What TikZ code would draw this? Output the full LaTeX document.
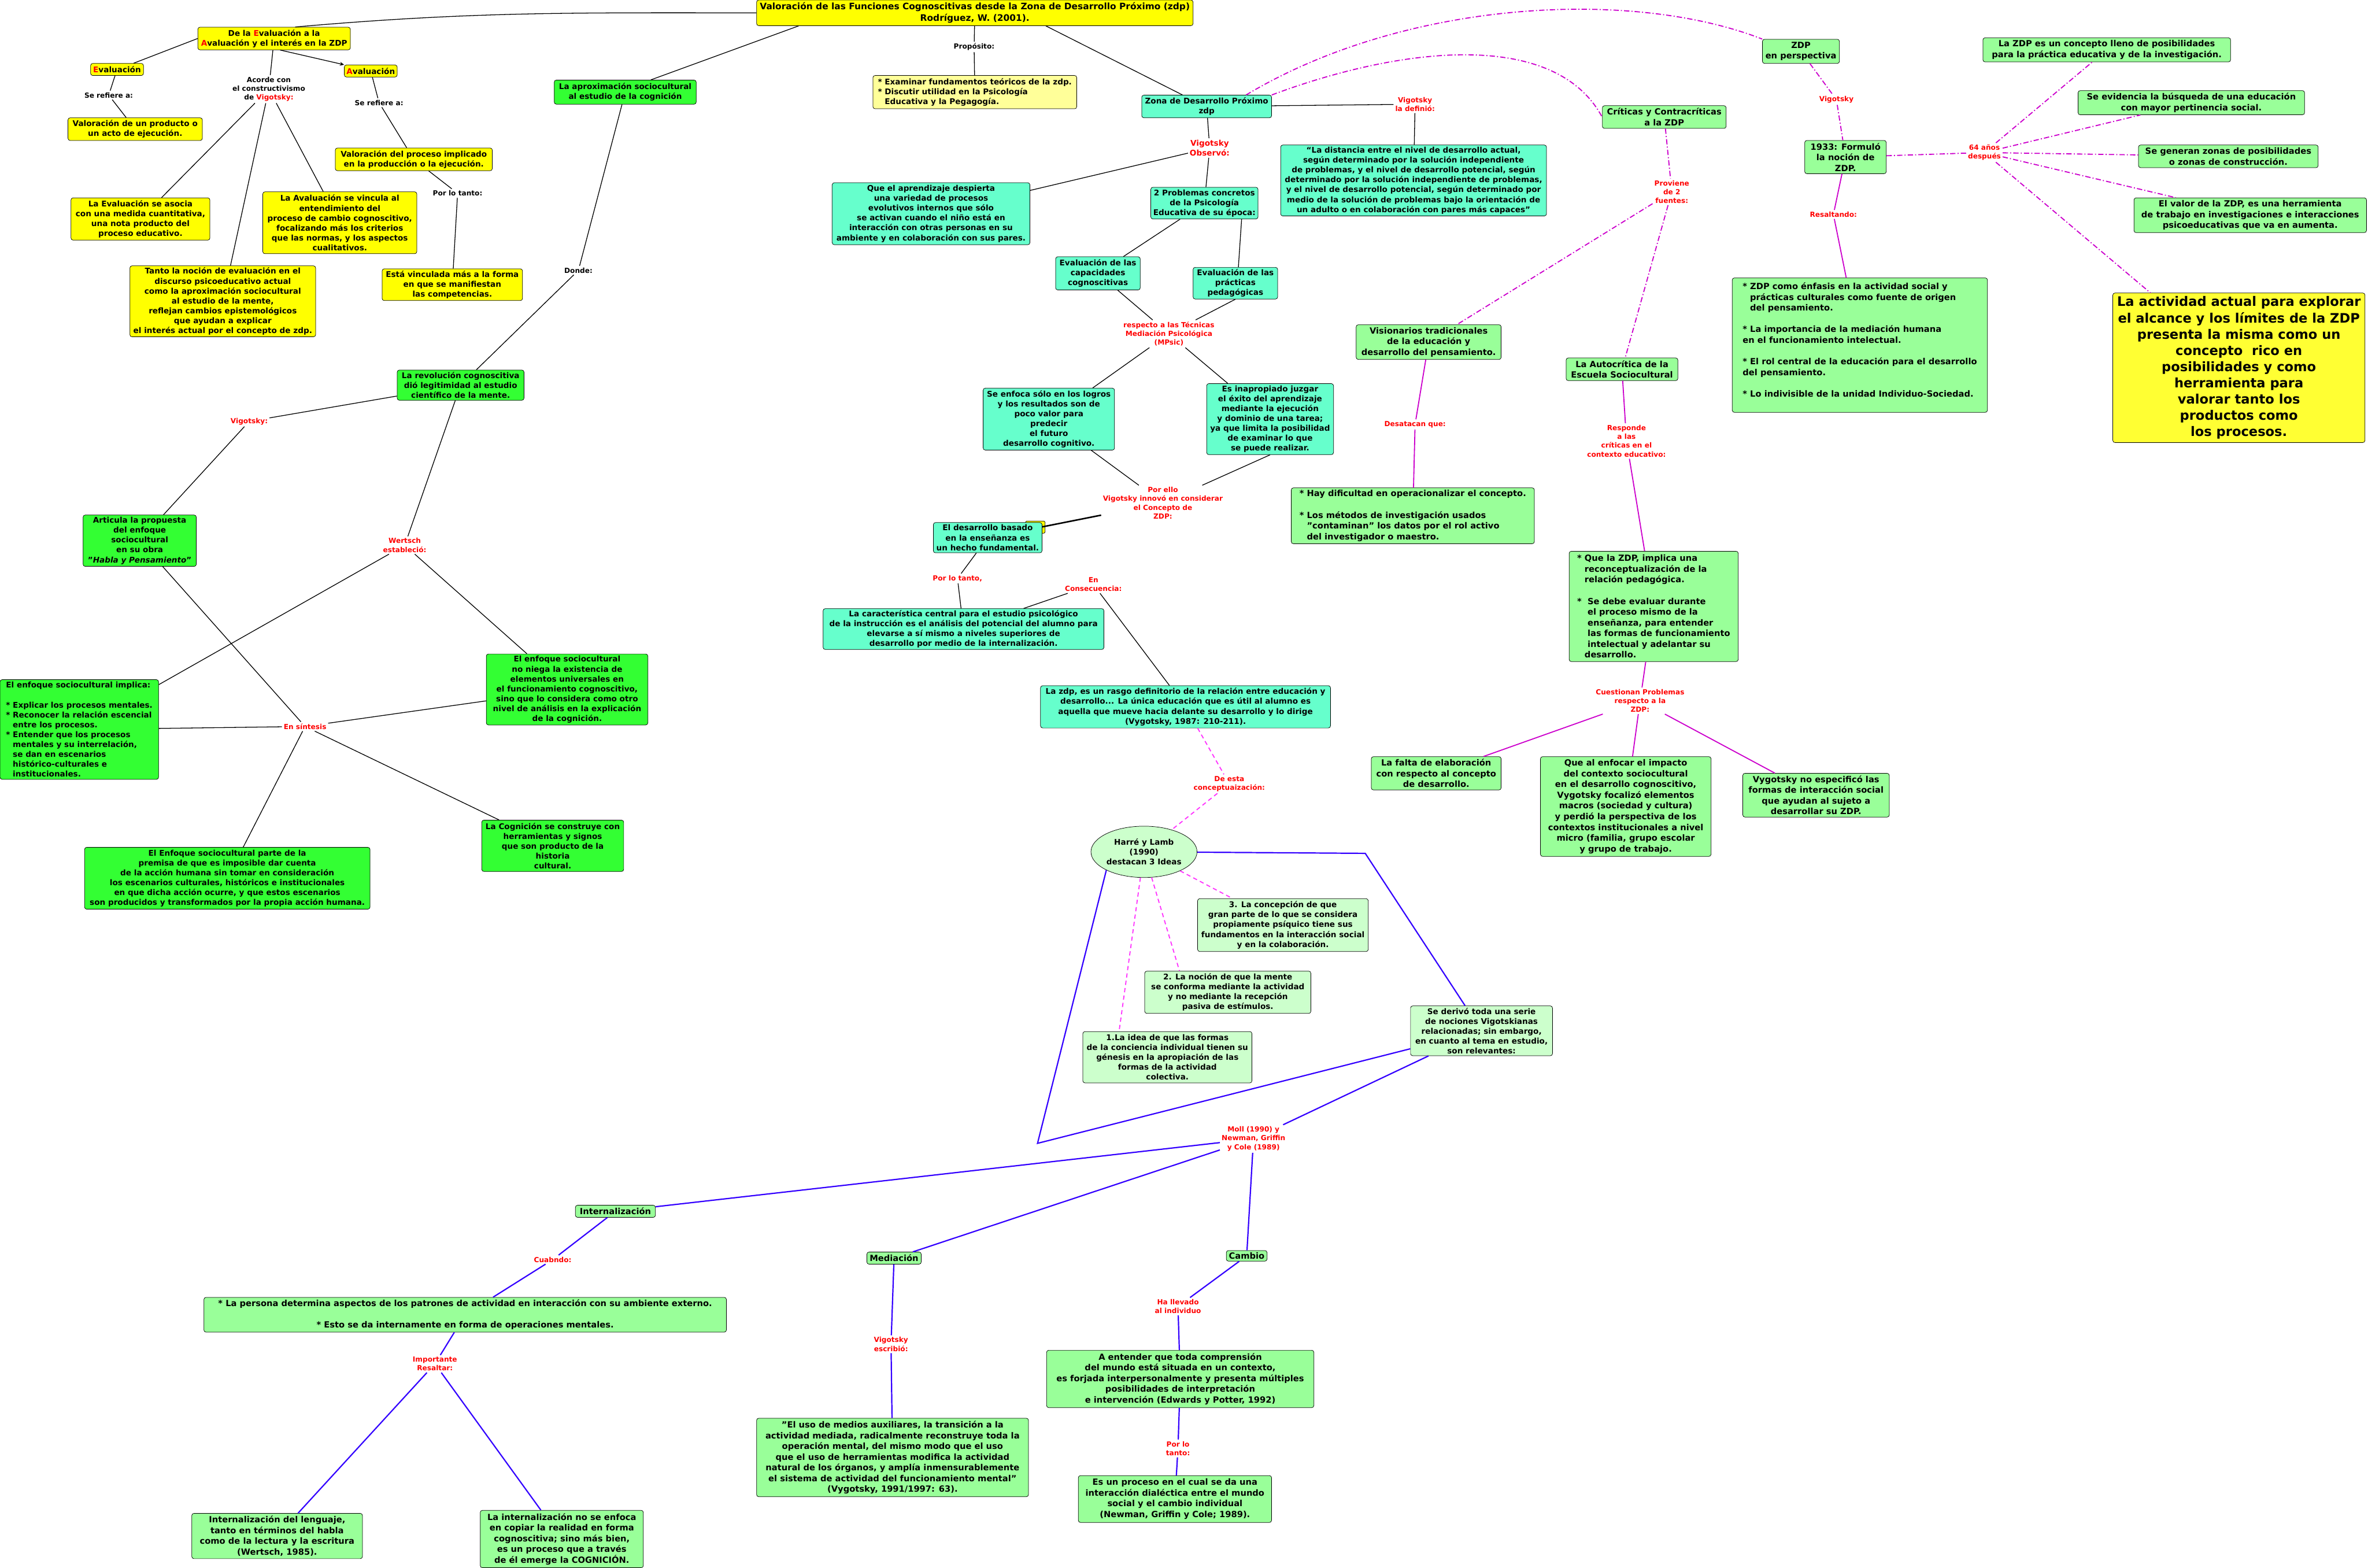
\documentclass[tikz,border=0pt]{standalone}
\usepackage{fontspec}
\setmainfont{DejaVu Sans}
\usetikzlibrary{shapes.geometric,arrows.meta}
\definecolor{cyel}{HTML}{FFFF00}
\definecolor{cyelpale}{HTML}{FFFF99}
\definecolor{cyelbig}{HTML}{FFFF33}
\definecolor{cgrn}{HTML}{33FF33}
\definecolor{cteal}{HTML}{66FFCC}
\definecolor{cltg}{HTML}{99FF99}
\definecolor{cpale}{HTML}{CCFFCC}
\definecolor{cred}{HTML}{FF0000}
\definecolor{cmag}{HTML}{CC00CC}
\definecolor{cpink}{HTML}{FF33FF}
\definecolor{cblue}{HTML}{3300FF}
\newcommand{\cmbase}{\bfseries\fontsize{7.4}{9.3}\selectfont}
\newcommand{\cmbig}{\bfseries\fontsize{8}{10.1}\selectfont}
\newcommand{\cmttl}{\bfseries\fontsize{8.4}{10.6}\selectfont}
\newcommand{\cmhuge}{\bfseries\fontsize{12.3}{15.3}\selectfont}
\newcommand{\cmlbl}{\bfseries\fontsize{6.6}{8.3}\selectfont}
\newcommand{\bul}{\mbox{*}}
\newcommand{\hind}{\hphantom{* }}
\tikzset{
  concept/.style={draw=black, line width=0.4pt, rounded corners=2pt, align=center, inner sep=1.5pt, font=\cmbase},
  sz/.style 2 args={minimum width=#1*0.05cm, minimum height=#2*0.05cm},
  yelbox/.style={concept, fill=cyel},
  grnbox/.style={concept, fill=cgrn},
  tealbox/.style={concept, fill=cteal},
  ltgbox/.style={concept, fill=cltg, font=\cmbig},
  palebox/.style={concept, fill=cpale},
  link/.style={align=center, inner sep=1.5pt, font=\cmlbl, text=cred},
  blink/.style={link, text=black},
  con/.style={line width=0.7pt},
  bcon/.style={line width=1.2pt, draw=cblue},
  mcon/.style={line width=1pt, draw=cmag},
  mdd/.style={mcon, dash pattern=on 5pt off 2pt on 1pt off 2pt},
  pdash/.style={line width=1pt, draw=cpink, dash pattern=on 4pt off 3pt}
}
\begin{document}
\begin{tikzpicture}[x=0.05cm, y=-0.05cm]
\useasboundingbox (0,0) rectangle (1568,1038);
\fill[white] (0,0) rectangle (1568,1038);
% Evaluacion / Avaluacion
\node[yelbox, font=\cmttl, sz={289}{17}] (title) at (645.5,8.5) {Valoración de las Funciones Cognoscitivas desde la Zona de Desarrollo Próximo (zdp)\\Rodríguez, W. (2001).};
\node[yelbox, sz={101}{15}] (deeva) at (181.5,25.5) {De la \textcolor{cred}{E}valuación a la\\\textcolor{cred}{A}valuación y el interés en la ZDP};
\node[yelbox, sz={35}{8}] (evalu) at (77.5,46) {\textcolor{cred}{E}valuación};
\node[yelbox, sz={35}{8}] (avalu) at (245.5,47) {\textcolor{cred}{A}valuación};
\node[blink] (serefa) at (72,63) {Se refiere a:};
\node[blink] (acorde) at (178,59) {Acorde con\\el constructivismo\\de \textcolor{cred}{Vigotsky:}};
\node[blink] (serefb) at (251,68) {Se refiere a:};
\node[yelbox, sz={89}{15}] (valprod) at (89.5,85.5) {Valoración de un producto o\\un acto de ejecución.};
\node[yelbox, sz={104}{15}] (valproc) at (274,105.5) {Valoración del proceso implicado\\en la producción o la ejecución.};
\node[blink] (portanto) at (303,128) {Por lo tanto:};
\node[yelbox, sz={92}{28}] (asocia) at (93,145) {La Evaluación se asocia\\con una medida cuantitativa,\\una nota producto del\\proceso educativo.};
\node[yelbox, sz={102}{41}] (vincula) at (225,147.5) {La Avaluación se vincula al\\entendimiento del\\proceso de cambio cognoscitivo,\\focalizando más los criterios\\que las normas, y los aspectos\\cualitativos.};
\node[yelbox, sz={123}{47}] (tanto) at (147.5,199.5) {Tanto la noción de evaluación en el\\discurso psicoeducativo actual\\como la aproximación sociocultural\\al estudio de la mente,\\reflejan cambios epistemológicos\\que ayudan a explicar\\el interés actual por el concepto de zdp.};
\node[yelbox, sz={93}{21}] (manifiestan) at (299.5,188.5) {Está vinculada más a la forma\\en que se manifiestan\\las competencias.};
% Aproximacion sociocultural
\node[grnbox, sz={94}{16}] (aprox) at (414,61) {La aproximación sociocultural\\al estudio de la cognición};
\node[blink] (donde) at (383,179) {Donde:};
\node[grnbox, sz={84}{20}] (revol) at (305,255) {La revolución cognoscitiva\\dió legitimidad al estudio\\científico de la mente.};
\node[link] (vigA) at (165,279) {Vigotsky:};
\node[grnbox, sz={75}{34}] (articula) at (92.5,358) {Articula la propuesta\\del enfoque\\sociocultural\\en su obra\\"\textit{Habla y Pensamiento}"};
\node[link] (wertsch) at (268,361) {Wertsch\\estableció:};
\node[grnbox, align=left, sz={105}{66}] (implica) at (52.5,483) {El enfoque sociocultural implica:\\[9.3pt]\bul{} Explicar los procesos mentales.\\\bul{} Reconocer la relación escencial\\\hind entre los procesos.\\\bul{} Entender que los procesos\\\hind mentales y su interrelación,\\\hind se dan en escenarios\\\hind histórico-culturales e\\\hind institucionales.};
\node[grnbox, sz={107}{47}] (noniega) at (375.5,456.5) {El enfoque sociocultural\\no niega la existencia de\\elementos universales en\\el funcionamiento cognoscitivo,\\sino que lo considera como otro\\nivel de análisis en la explicación\\de la cognición.};
\node[link] (sintesis) at (202,481) {En síntesis};
\node[grnbox, sz={189}{41}] (parte) at (150.5,581.5) {El Enfoque sociocultural parte de la\\premisa de que es imposible dar cuenta\\de la acción humana sin tomar en consideración\\los escenarios culturales, históricos e institucionales\\en que dicha acción ocurre, y que estos escenarios\\son producidos y transformados por la propia acción humana.};
\node[grnbox, sz={94}{34}] (cognicion) at (366,560) {La Cognición se construye con\\herramientas y signos\\que son producto de la\\historia\\cultural.};
% Zona de Desarrollo Proximo
\node[blink] (proposito) at (645,31) {Propósito:};
\node[concept, fill=cyelpale, align=left, sz={135}{22}] (examinar) at (645.5,61) {\bul{} Examinar fundamentos teóricos de la zdp.\\\bul{} Discutir utilidad en la Psicología\\\hind Educativa y la Pegagogía.};
\node[tealbox, sz={86}{15}] (zona) at (799,70.5) {Zona de Desarrollo Próximo\\zdp};
\node[link] (definio) at (937,69) {Vigotsky\\la definió:};
\node[tealbox, sz={176}{47}] (defin) at (936,119.5) {“La distancia entre el nivel de desarrollo actual,\\según determinado por la solución independiente\\de problemas, y el nivel de desarrollo potencial, según\\determinado por la solución independiente de problemas,\\y el nivel de desarrollo potencial, según determinado por\\medio de la solución de problemas bajo la orientación de\\un adulto o en colaboración con pares más capaces”};
\node[link, font=\cmbase] (observo) at (801,98) {Vigotsky\\Observó:};
\node[tealbox, sz={131}{41}] (aprendizaje) at (616.5,141.5) {Que el aprendizaje despierta\\una variedad de procesos\\evolutivos internos que sólo\\se activan cuando el niño está en\\interacción con otras personas en su\\ambiente y en colaboración con sus pares.};
\node[tealbox, sz={71}{21}] (problemas) at (797.5,134.5) {2 Problemas concretos\\de la Psicología\\Educativa de su época:};
\node[tealbox, sz={56}{22}] (capac) at (727,181) {Evaluación de las\\capacidades\\cognoscitivas};
\node[tealbox, sz={56}{21}] (practicas) at (818,187.5) {Evaluación de las\\prácticas\\pedagógicas};
\node[link] (respecto) at (774,221) {respecto a las Técnicas\\Mediación Psicológica\\(MPsic)};
\node[tealbox, sz={87}{41}] (logros) at (694.5,277.5) {Se enfoca sólo en los logros\\y los resultados son de\\poco valor para\\predecir\\el futuro\\desarrollo cognitivo.};
\node[tealbox, sz={84}{47}] (inaprop) at (841,277.5) {Es inapropiado juzgar\\el éxito del aprendizaje\\mediante la ejecución\\y dominio de una tarea;\\ya que limita la posibilidad\\de examinar lo que\\se puede realizar.};
\node[link] (porello) at (770,333) {Por ello\\Vigotsky innovó en considerar\\el Concepto de\\ZDP:};
\filldraw[fill=cyel, line width=0.4pt, rounded corners=1pt] (679,345) rectangle (692,353);
\node[tealbox, sz={72}{20}] (basado) at (654,356) {El desarrollo basado\\en la enseñanza es\\un hecho fundamental.};
\node[link] (portantoB) at (634,383) {Por lo tanto,};
\node[link] (consec) at (724,387) {En\\Consecuencia:};
\node[tealbox, sz={186}{27}] (caract) at (638,416.5) {La característica central para el estudio psicológico\\de la instrucción es el análisis del potencial del alumno para\\elevarse a sí mismo a niveles superiores de\\desarrollo por medio de la internalización.};
\node[tealbox, sz={192}{28}] (lazdp) at (785,468) {La zdp, es un rasgo definitorio de la relación entre educación y\\desarrollo... La única educación que es útil al alumno es\\aquella que mueve hacia delante su desarrollo y lo dirige\\(Vygotsky, 1987: 210-211).};
% Harre y Lamb
\node[link] (deesta) at (814,519) {De esta\\conceptuaización:};
\node[palebox, ellipse, sz={63}{34}, inner sep=0pt] (harre) at (757.5,564) {Harré y Lamb\\(1990)\\destacan 3 Ideas};
\node[palebox, sz={113}{35}] (ideaC) at (849.5,612.5) {3. La concepción de que\\gran parte de lo que se considera\\propiamente psíquico tiene sus\\fundamentos en la interacción social\\y en la colaboración.};
\node[palebox, sz={110}{28}] (ideaB) at (813,657) {2. La noción de que la mente\\se conforma mediante la actividad\\y no mediante la recepción\\pasiva de estímulos.};
\node[palebox, sz={112}{34}] (ideaA) at (773,700) {1.La idea de que las formas\\de la conciencia individual tienen su\\génesis en la apropiación de las\\formas de la actividad\\colectiva.};
\node[palebox, sz={94}{33}] (deriva) at (981,682.5) {Se derivó toda una serie\\de nociones Vigotskianas\\relacionadas; sin embargo,\\en cuanto al tema en estudio,\\son relevantes:};
\coordinate (hcorner) at (904,565);
\coordinate (vcorner) at (687,757);
% Internalizacion, Mediacion, Cambio
\node[link] (moll) at (830,754) {Moll (1990) y\\Newman, Griffin\\y Cole (1989)};
\node[ltgbox, sz={53}{8}] (intern) at (407.5,802) {Internalización};
\node[link] (cuando) at (366,834) {Cuabndo:};
\node[ltgbox, sz={346}{23}] (persona) at (308,870.5) {\bul{} La persona determina aspectos de los patrones de actividad en interacción con su ambiente externo.\\[10.1pt]\bul{} Esto se da internamente en forma de operaciones mentales.};
\node[link] (importante) at (288,903) {Importante\\Resaltar:};
\node[ltgbox, sz={113}{30}] (lenguaje) at (183.5,1017) {Internalización del lenguaje,\\tanto en términos del habla\\como de la lectura y la escritura\\(Wertsch, 1985).};
\node[ltgbox, sz={108}{38}] (noenfoca) at (372,1019) {La internalización no se enfoca\\en copiar la realidad en forma\\cognoscitiva; sino más bien,\\es un proceso que a través\\de él emerge la COGNICIÓN.};
\node[ltgbox, sz={36}{8}] (mediac) at (592,833) {Mediación};
\node[link] (escribio) at (590,890) {Vigotsky\\escribió:};
\node[ltgbox, sz={180}{52}] (eluso) at (591,965) {"El uso de medios auxiliares, la transición a la\\actividad mediada, radicalmente reconstruye toda la\\operación mental, del mismo modo que el uso\\que el uso de herramientas modifica la actividad\\natural de los órganos, y amplía inmensurablemente\\el sistema de actividad del funcionamiento mental"\\(Vygotsky, 1991/1997: 63).};
\node[ltgbox, sz={27}{7}] (cambio) at (825.5,831.5) {Cambio};
\node[link] (llevado) at (780,865) {Ha llevado\\al individuo};
\node[ltgbox, sz={177}{38}] (entender) at (781.5,913) {A entender que toda comprensión\\del mundo está situada en un contexto,\\es forjada interpersonalmente y presenta múltiples\\posibilidades de interpretación\\e intervención (Edwards y Potter, 1992)};
\node[link] (portantoC) at (780,959) {Por lo\\tanto:};
\node[ltgbox, sz={128}{31}] (dialectica) at (778,992.5) {Es un proceso en el cual se da una\\interacción dialéctica entre el mundo\\social y el cambio individual\\(Newman, Griffin y Cole; 1989).};
% ZDP en perspectiva
\node[ltgbox, sz={51}{16}] (persp) at (1192.5,34) {ZDP\\en perspectiva};
\node[ltgbox, sz={82}{15}] (criticas) at (1102,77.5) {Críticas y Contracríticas\\a la ZDP};
\node[link] (vigB) at (1216,66) {Vigotsky};
\node[ltgbox, sz={54}{22}] (formulo) at (1222,104) {1933: Formuló\\la noción de\\ZDP.};
\node[link] (anios) at (1314,101) {64 años\\después};
\node[ltgbox, sz={164}{16}] (lleno) at (1395,33) {La ZDP es un concepto lleno de posibilidades\\para la práctica educativa y de la investigación.};
\node[ltgbox, sz={150}{16}] (pertinencia) at (1451,68) {Se evidencia la búsqueda de una educación\\con mayor pertinencia social.};
\node[ltgbox, sz={119}{15}] (zonas) at (1475.5,103.5) {Se generan zonas de posibilidades\\o zonas de construcción.};
\node[ltgbox, sz={154}{23}] (valor) at (1490,142.5) {El valor de la ZDP, es una herramienta\\de trabajo en investigaciones e interacciones\\psicoeducativas que va en aumenta.};
\node[concept, fill=cyelbig, font=\cmhuge, sz={167}{99}] (actual) at (1482.5,243.5) {La actividad actual para explorar\\el alcance y los límites de la ZDP\\presenta la misma como un\\concepto \ rico en\\posibilidades y como\\herramienta para\\valorar tanto los\\productos como\\los procesos.};
\node[link] (resaltando) at (1214,142) {Resaltando:};
\node[ltgbox, align=left, sz={169}{89}] (enfasis) at (1231.5,228.5) {\bul{} ZDP como énfasis en la actividad social y\\\hind prácticas culturales como fuente de origen\\\hind del pensamiento.\\[10.1pt]\bul{} La importancia de la mediación humana\\en el funcionamiento intelectual.\\[10.1pt]\bul{} El rol central de la educación para el desarrollo\\del pensamiento.\\[10.1pt]\bul{} Lo indivisible de la unidad Individuo-Sociedad.\\\mbox{}};
\node[link] (proviene) at (1107,127) {Proviene\\de 2\\fuentes:};
\node[ltgbox, sz={96}{23}] (visionarios) at (946,226.5) {Visionarios tradicionales\\de la educación y\\desarrollo del pensamiento.};
\node[link] (destacan) at (937,281) {Desatacan que:};
\node[ltgbox, align=left, sz={161}{37}] (dificultad) at (935.5,341.5) {\bul{} Hay dificultad en operacionalizar el concepto.\\[10.1pt]\bul{} Los métodos de investigación usados\\\hind"contaminan" los datos por el rol activo\\\hind del investigador o maestro.};
\node[ltgbox, sz={74}{15}] (autocritica) at (1074,244.5) {La Autocrítica de la\\Escuela Sociocultural};
\node[link] (responde) at (1077,292) {Responde\\a las\\críticas en el\\contexto educativo:};
\node[ltgbox, align=left, sz={112}{73}] (reconcep) at (1095,401.5) {\bul{} Que la ZDP, implica una\\\hind reconceptualización de la\\\hind relación pedagógica.\\[10.1pt]\bul{} \ Se debe evaluar durante\\\hind\ el proceso mismo de la\\\hind\ enseñanza, para entender\\\hind\ las formas de funcionamiento\\\hind\ intelectual y adelantar su\\\hind desarrollo.};
\node[link] (cuestionan) at (1086,464) {Cuestionan Problemas\\respecto a la\\ZDP:};
\node[ltgbox, sz={86}{22}] (falta) at (951,512) {La falta de elaboración\\con respecto al concepto\\de desarrollo.};
\node[ltgbox, sz={113}{66}] (enfocar) at (1076.5,534) {Que al enfocar el impacto\\del contexto sociocultural\\en el desarrollo cognoscitivo,\\Vygotsky focalizó elementos\\macros (sociedad y cultura)\\y perdió la perspectiva de los\\contextos institucionales a nivel\\micro (familia, grupo escolar\\y grupo de trabajo.};
\node[ltgbox, sz={97}{29}] (especifico) at (1202.5,526.5) {Vygotsky no especificó las\\formas de interacción social\\que ayudan al sujeto a\\desarrollar su ZDP.};
% Connectors, black
\draw[con] ([xshift=0.7cm]deeva.north) to[out=5,in=180] (title.west);
\draw[con] (deeva.west) -- ([xshift=0.55cm]evalu.north);
\draw[con, -{Stealth[length=4pt,width=3.5pt]}] ([xshift=0.2cm]deeva.south) -- (avalu.north west);
\draw[con] (deeva) -- (acorde);
\draw[con] (acorde) -- (asocia) (acorde) -- (tanto) (acorde) -- (vincula);
\draw[con] (evalu) -- (serefa) (serefa) -- (valprod);
\draw[con] (avalu) -- (serefb) (serefb) -- (valproc);
\draw[con] (valproc) -- (portanto) (portanto) -- (manifiestan);
\draw[con] ([xshift=1.4cm]title.south west) -- ([xshift=0.85cm]aprox.north);
\draw[con] (aprox) -- (donde) (donde) -- (revol);
\draw[con] (revol) -- (vigA) (vigA) -- (articula);
\draw[con] (revol) -- (wertsch) (wertsch) -- (implica) (wertsch) -- (noniega);
\draw[con] (articula) -- (sintesis);
\draw[con] (sintesis) -- (implica) (sintesis) -- (noniega) (sintesis) -- (parte) (sintesis) -- (cognicion);
\draw[con] (title) -- (proposito) (proposito) -- (examinar);
\draw[con] ([xshift=2.35cm]title.south) -- ([xshift=-0.8cm]zona.north);
\draw[con] (zona) -- (definio) (definio) -- (defin);
\draw[con] (zona) -- (observo) (observo) -- (problemas) (observo) -- (aprendizaje);
\draw[con] (problemas) -- (capac);
\draw[con] ([xshift=-0.55cm]problemas.south east) -- ([xshift=0.1cm]practicas.north);
\draw[con] (capac) -- (respecto) (practicas.south) -- (respecto);
\draw[con] (respecto) -- (logros) (respecto) -- (inaprop);
\draw[con] (logros) -- (porello) (inaprop.south) -- (porello);
\draw[line width=1.4pt] (porello) -- (basado);
\draw[con] (basado) -- (portantoB) (portantoB) -- (caract);
\draw[con] (consec) -- (caract) (consec) -- (lazdp);
% Connectors, pink dashed
\draw[pdash] (lazdp) -- (deesta) (deesta) -- (harre);
\draw[pdash] (harre) -- (ideaC);
\draw[pdash] (harre) -- ([xshift=-1.6cm]ideaB.north);
\draw[pdash] (harre) -- ([xshift=-1.6cm]ideaA.north);
% Connectors, blue
\draw[bcon] (harre) -- (hcorner) -- (deriva);
\draw[bcon] (harre.south west) -- (vcorner) -- (deriva);
\draw[bcon] (deriva) -- (moll);
\draw[bcon] (moll) -- (intern) (moll) -- (mediac) (moll) -- (cambio);
\draw[bcon] (intern) -- (cuando) (cuando) -- (persona);
\draw[bcon] (persona) -- (importante) (importante) -- (lenguaje) (importante) -- (noenfoca);
\draw[bcon] (mediac) -- (escribio) (escribio) -- (eluso);
\draw[bcon] (cambio) -- (llevado) (llevado) -- (entender);
\draw[bcon] (entender) -- (portantoC) (portantoC) -- (dialectica);
% Connectors, magenta
\draw[mdd] ([xshift=-0.85cm]zona.north east) .. controls (930,0) and (1080,-8) .. (persp.north west);
\draw[mdd] (zona.north east) .. controls (930,30) and (1030,20) .. (criticas.west);
\draw[mdd] (persp) -- (vigB) (vigB) -- (formulo);
\draw[mdd] (formulo) -- (anios);
\draw[mdd] (anios) -- (lleno) (anios) -- (pertinencia) (anios) -- (zonas) (anios) -- (valor) (anios) -- (actual);
\draw[mcon] (formulo) -- (resaltando) (resaltando) -- (enfasis);
\draw[mdd] (criticas) -- (proviene) (proviene) -- (visionarios) (proviene) -- (autocritica);
\draw[mcon] (visionarios) -- (destacan) (destacan) -- (dificultad);
\draw[mcon] (autocritica) -- (responde) (responde) -- (reconcep);
\draw[mcon] (reconcep) -- (cuestionan);
\draw[mcon] (cuestionan) -- (falta) (cuestionan) -- (enfocar) (cuestionan) -- (especifico);
\end{tikzpicture}
\end{document}
